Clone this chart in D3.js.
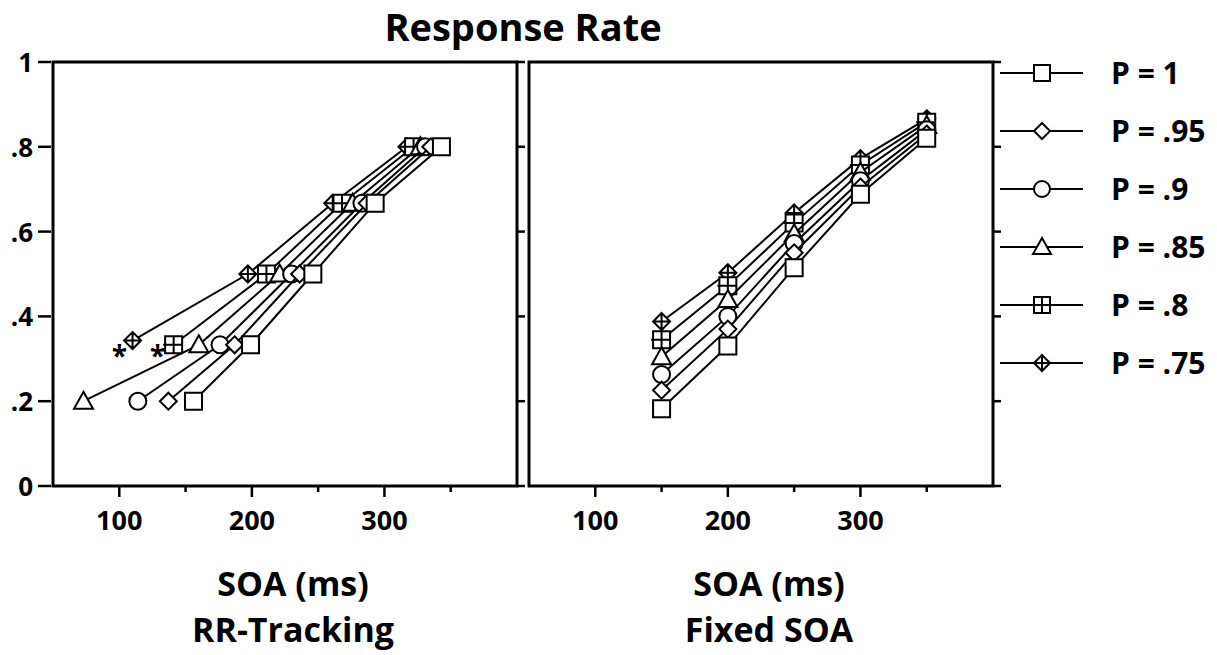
<!DOCTYPE html>
<html>
<head>
<meta charset="utf-8">
<script src="https://cdn.jsdelivr.net/npm/d3@7"></script>
<style>
  body { margin: 0; background: #fff; }
  svg text { font-family: "Open Sans", "Noto Sans", sans-serif; font-weight: 700; fill: #000; }
</style>
</head>
<body>
<svg id="chart" width="1217" height="655"></svg>
<script>
// legend / series order as in the key
var seriesNames = ['P = 1', 'P = .95', 'P = .9', 'P = .85', 'P = .8', 'P = .75'];
var seriesShapes = ['square', 'diamond', 'circle', 'triangle', 'squareCross', 'diamondCross'];

var yTicks = [0, .2, .4, .6, .8, 1];
var yTickLabels = ['0', '.2', '.4', '.6', '.8', '1'];
var xMajor = [100, 200, 300];
var xMinor = [150, 250, 350];

// RR-Tracking panel: mean SOA (ms) reached at each response rate
var trackSOA = [
  [156, 199, 246, 293, 343],
  [137, 187, 236, 287, 335],
  [114, 176, 230, 283, 331],
  [73, 160, 221, 276, 327],
  [141, 211, 268, 322],
  [110, 197, 261, 317]
];
var trackRate = [
  [.2, .333, .5, .667, .8],
  [.2, .333, .5, .667, .8],
  [.2, .333, .5, .667, .8],
  [.2, .333, .5, .667, .8],
  [.333, .5, .667, .8],
  [.343, .5, .667, .8]
];
var starSOA = [100, 129];
var starRate = [.318, .318];

// Fixed SOA panel
var fixedSOA = [150, 200, 250, 300, 350];
var fixedRate = [
  [.182, .33, .515, .688, .82],
  [.226, .37, .55, .705, .83],
  [.263, .40, .572, .72, .84],
  [.305, .44, .595, .74, .85],
  [.345, .472, .62, .757, .858],
  [.388, .503, .644, .772, .866]
];

var svg = d3.select('#chart');

var y = d3.scaleLinear().domain([0, 1]).range([486, 62]);
var xLeft = d3.scaleLinear().domain([50, 400]).range([53, 517]);
var xRight = d3.scaleLinear().domain([50, 400]).range([529, 993]);

function markerPath(shape, s){
  var h = s / 2;
  if (shape == 'square' || shape == 'squareCross') {
    var p = 'M' + (-h) + ',' + (-h) + 'H' + h + 'V' + h + 'H' + (-h) + 'Z';
    if (shape == 'squareCross') p += 'M' + (-h - 2) + ',0H' + h + 'M0,' + (-h) + 'V' + h;
    return p;
  }
  if (shape == 'diamond' || shape == 'diamondCross') {
    var p = 'M0,' + (-h) + 'L' + h + ',0L0,' + h + 'L' + (-h) + ',0Z';
    if (shape == 'diamondCross') p += 'M' + (-h) + ',0H' + h + 'M0,' + (-h) + 'V' + h;
    return p;
  }
  if (shape == 'circle') {
    return 'M' + h + ',0A' + h + ',' + h + ' 0 1,1 ' + (-h) + ',0A' + h + ',' + h + ' 0 1,1 ' + h + ',0Z';
  }
  if (shape == 'triangle') {
    return 'M0,' + (-h - 1) + 'L' + (h + 1) + ',' + (h - 1) + 'L' + (-h - 1) + ',' + (h - 1) + 'Z';
  }
}

function drawFrame(x, labelY){
  var g = svg.append('g');
  g.append('rect')
    .attr('x', x.range()[0]).attr('y', y.range()[1])
    .attr('width', x.range()[1] - x.range()[0])
    .attr('height', y.range()[0] - y.range()[1])
    .attr('fill', 'none').attr('stroke', '#000').attr('stroke-width', 3);

  // bottom ticks, long at the hundreds
  g.selectAll('.maj').data(xMajor).enter().append('line')
    .attr('x1', x).attr('x2', x)
    .attr('y1', y(0)).attr('y2', y(0) + 11)
    .attr('stroke', '#000').attr('stroke-width', 2.5);
  g.selectAll('.min').data(xMinor).enter().append('line')
    .attr('x1', x).attr('x2', x)
    .attr('y1', y(0)).attr('y2', y(0) + 6)
    .attr('stroke', '#000').attr('stroke-width', 2.5);
  g.selectAll('.xl').data(xMajor).enter().append('text')
    .attr('x', x).attr('y', 530)
    .attr('text-anchor', 'middle').attr('font-size', 27)
    .text(function(d){ return d; });

  // right-hand ticks
  g.selectAll('.rt').data(yTicks).enter().append('line')
    .attr('x1', x.range()[1]).attr('x2', x.range()[1] + 8)
    .attr('y1', y).attr('y2', y)
    .attr('stroke', '#000').attr('stroke-width', 2.5);

  var cx = (x.range()[0] + x.range()[1]) / 2 + 8;
  g.append('text').attr('x', cx).attr('y', 596)
    .attr('text-anchor', 'middle').attr('font-size', 34).text('SOA (ms)');
  g.append('text').attr('x', cx).attr('y', 642)
    .attr('text-anchor', 'middle').attr('font-size', 34).text(labelY);
  return g;
}

drawFrame(xLeft, 'RR-Tracking');
drawFrame(xRight, 'Fixed SOA');

// left y axis ticks + labels
svg.selectAll('.yt').data(yTicks).enter().append('line')
  .attr('x1', 38).attr('x2', 51)
  .attr('y1', y).attr('y2', y)
  .attr('stroke', '#000').attr('stroke-width', 2.5);
svg.selectAll('.yl').data(yTicks).enter().append('text')
  .attr('x', 33).attr('y', function(d){ return y(d) + 10; })
  .attr('text-anchor', 'end').attr('font-size', 26)
  .text(function(d, i){ return yTickLabels[i]; });

svg.append('text').attr('x', 523).attr('y', 41)
  .attr('text-anchor', 'middle').attr('font-size', 38).text('Response Rate');

var line = d3.line();

function drawSeries(xs, ys, x, shape){
  var pts = xs.map(function(d, i){ return [x(d), y(ys[i])]; });
  var g = svg.append('g');
  g.append('path').attr('d', line(pts))
    .attr('fill', 'none').attr('stroke', '#000').attr('stroke-width', 2);
  g.selectAll('path.m').data(pts).enter().append('path')
    .attr('class', 'm')
    .attr('transform', function(d){ return 'translate(' + d[0] + ',' + d[1] + ')'; })
    .attr('d', markerPath(shape, 17))
    .attr('fill', '#fff').attr('stroke', '#000').attr('stroke-width', 2);
}

// drawn from P = .75 up to P = 1 so the squares sit on top
for (var i = seriesNames.length - 1; i >= 0; i--) {
  drawSeries(trackSOA[i], trackRate[i], xLeft, seriesShapes[i]);
  drawSeries(fixedSOA, fixedRate[i], xRight, seriesShapes[i]);
}

svg.selectAll('.star').data(starSOA).enter().append('text')
  .attr('x', function(d){ return xLeft(d); })
  .attr('y', function(d, i){ return y(starRate[i]) + 15; })
  .attr('text-anchor', 'middle').attr('font-size', 28)
  .text('*');

// key
var legend = svg.append('g');
seriesNames.forEach(function(name, i){
  var ly = 73 + i * 58;
  legend.append('line').attr('x1', 1000).attr('x2', 1083)
    .attr('y1', ly).attr('y2', ly)
    .attr('stroke', '#000').attr('stroke-width', 2);
  legend.append('path')
    .attr('transform', 'translate(1042,' + ly + ')')
    .attr('d', markerPath(seriesShapes[i], 16))
    .attr('fill', '#fff').attr('stroke', '#000').attr('stroke-width', 2);
  legend.append('text').attr('x', 1111).attr('y', ly + 11)
    .attr('font-size', 30).text(name);
});
</script>
</body>
</html>
